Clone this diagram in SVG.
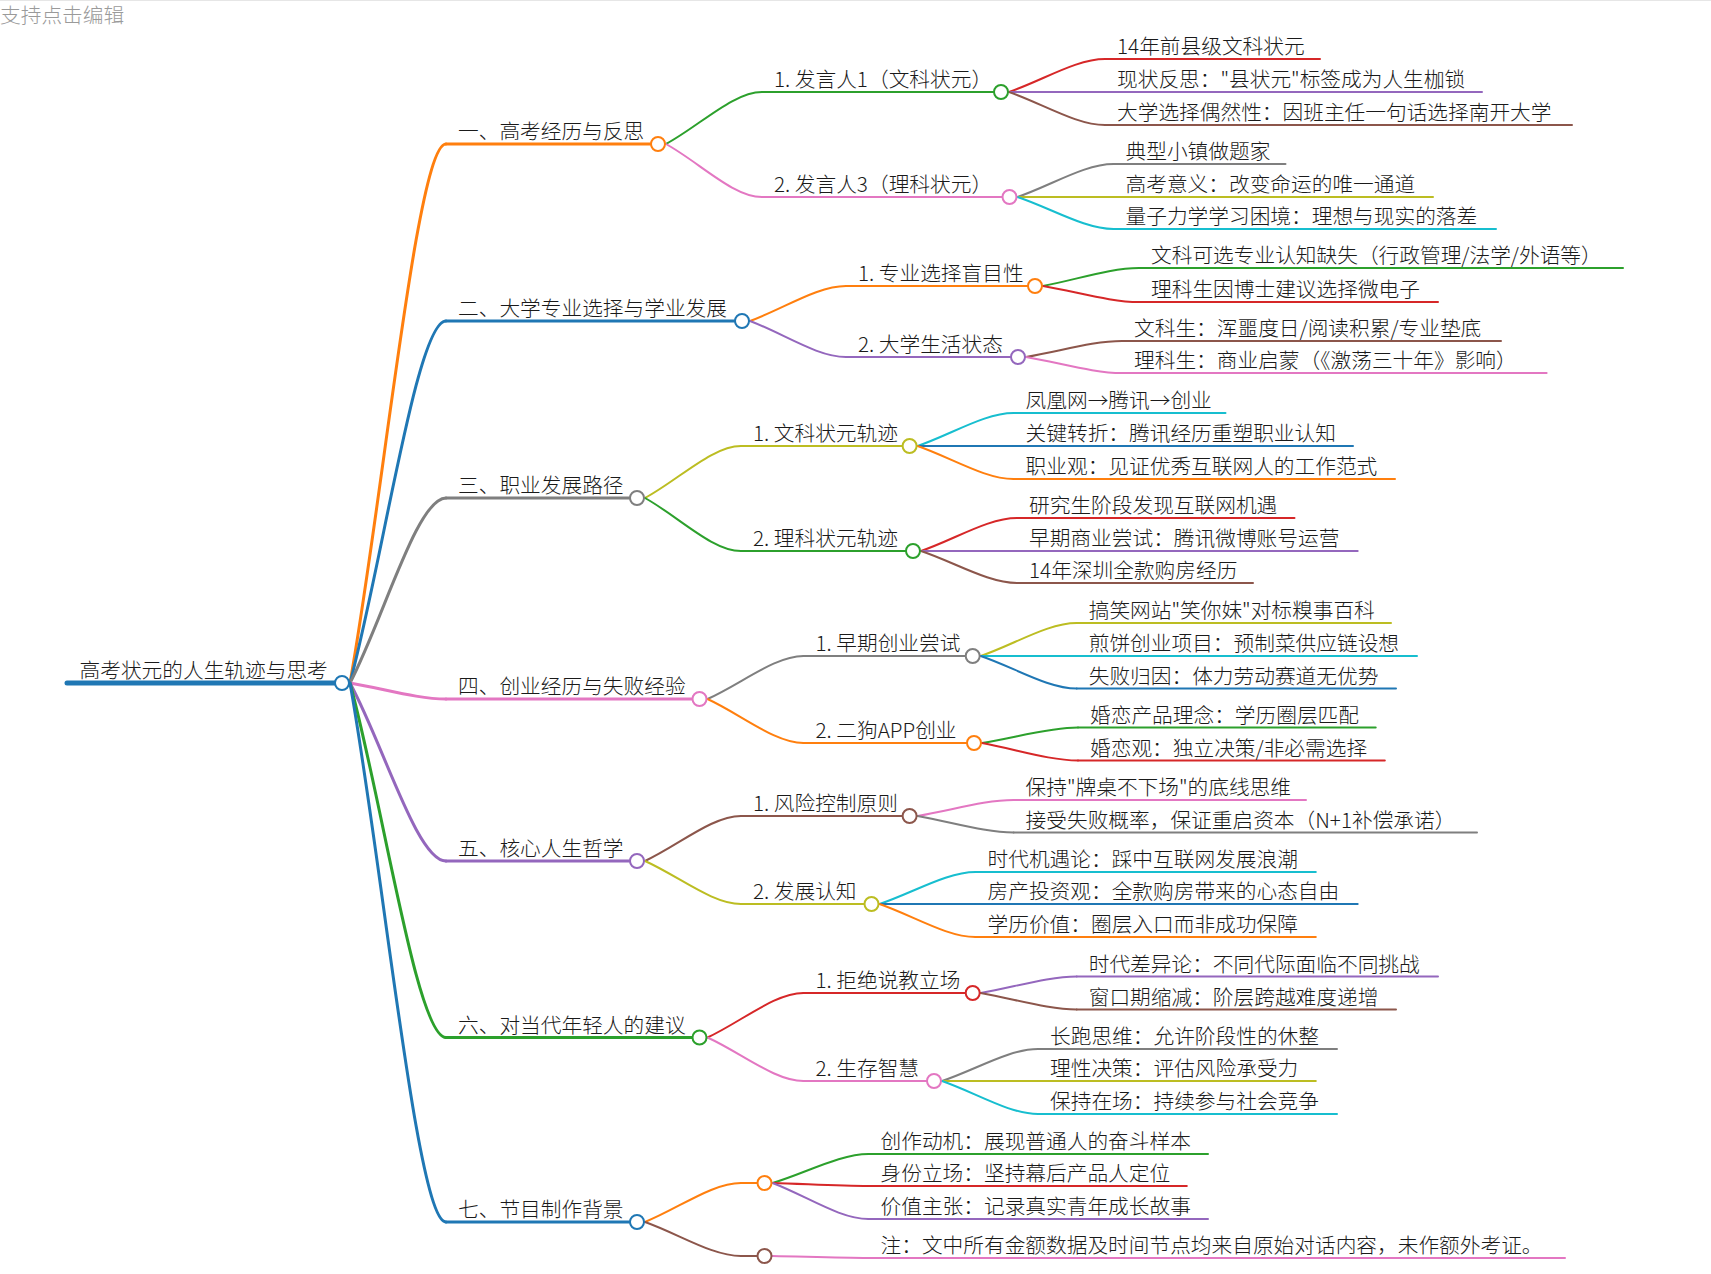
<svg xmlns="http://www.w3.org/2000/svg" width="1711" height="1274" viewBox="0 0 1711 1274">
<style>
text{font-family:"Noto Sans CJK SC","Noto Sans",sans-serif;font-size:20.7px;font-weight:300;fill:#1a1a1a}
.hint{fill:#9a9a9a}
path,line{fill:none;stroke-linecap:round}
.w3{stroke-width:3}
.w2{stroke-width:2}
circle{fill:#fff;stroke-width:2}
.or{stroke:#ff7f0e}.bl{stroke:#1f77b4}.gy{stroke:#7f7f7f}.pk{stroke:#e377c2}.pu{stroke:#9467bd}
.gn{stroke:#2ca02c}.rd{stroke:#d62728}.br{stroke:#8c564b}.ol{stroke:#bcbd22}.cy{stroke:#17becf}
</style>
<rect width="1711" height="1274" fill="#fff"/>
<line x1="0" y1="0.5" x2="1711" y2="0.5" stroke="#e6e6e6" stroke-width="1"/>
<text class="hint" x="0" y="23">支持点击编辑</text>

<g id="connectors">
<path class="w3 or" d="M350 683 C383.6 494.4 417.2 144 446 144"/>
<path class="w3 bl" d="M350 683 C383.6 556.3 417.2 321 446 321"/>
<path class="w3 gy" d="M350 683 C383.6 618.3 417.2 498 446 498"/>
<path class="w3 pk" d="M350 683 C383.6 688.6 417.2 699 446 699"/>
<path class="w3 pu" d="M350 683 C383.6 745.3 417.2 861 446 861"/>
<path class="w3 gn" d="M350 683 C383.6 807.1 417.2 1037.5 446 1037.5"/>
<path class="w3 bl" d="M350 683 C383.6 871.7 417.2 1222 446 1222"/>
<path class="w2 gn" d="M666 144 C699.6 125.8 733.2 92 762 92"/>
<path class="w2 pk" d="M666 144 C699.6 162.6 733.2 197 762 197"/>
<path class="w2 or" d="M750 321 C783.6 308.8 817.2 286 846 286"/>
<path class="w2 pu" d="M750 321 C783.6 333.6 817.2 357 846 357"/>
<path class="w2 ol" d="M645 498 C678.6 479.8 712.2 446 741 446"/>
<path class="w2 gn" d="M645 498 C678.6 516.6 712.2 551 741 551"/>
<path class="w2 gy" d="M707.5 699 C741.1 684 774.7 656 803.5 656"/>
<path class="w2 or" d="M707.5 699 C741.1 714.4 774.7 743 803.5 743"/>
<path class="w2 br" d="M645 861 C678.6 845.3 712.2 816 741 816"/>
<path class="w2 ol" d="M645 861 C678.6 876 712.2 904 741 904"/>
<path class="w2 rd" d="M707.5 1037.5 C741.1 1021.9 774.7 993 803.5 993"/>
<path class="w2 pk" d="M707.5 1037.5 C741.1 1052.7 774.7 1081 803.5 1081"/>
<path class="w2 or" d="M645 1222 C678.6 1208.4 712.2 1183 741 1183"/>
<path class="w2 br" d="M645 1222 C678.6 1233.9 712.2 1256 741 1256"/>
<path class="w2 rd" d="M1009 92 C1042.6 80.5 1076.2 59 1105 59"/>
<path class="w2 pu" d="M1009 92 L1105 92"/>
<path class="w2 br" d="M1009 92 C1042.6 103.6 1076.2 125 1105 125"/>
<path class="w2 gy" d="M1017.5 197 C1051.1 185.5 1084.7 164 1113.5 164"/>
<path class="w2 ol" d="M1017.5 197 L1113.5 197"/>
<path class="w2 cy" d="M1017.5 197 C1051.1 208.2 1084.7 229 1113.5 229"/>
<path class="w2 gn" d="M1043 286 C1076.6 279.7 1110.2 268 1139 268"/>
<path class="w2 rd" d="M1043 286 C1076.6 291.6 1110.2 302 1139 302"/>
<path class="w2 br" d="M1026 357 C1059.6 351.4 1093.2 341 1122 341"/>
<path class="w2 pk" d="M1026 357 C1059.6 362.6 1093.2 373 1122 373"/>
<path class="w2 cy" d="M917.6 446 C951.2 434.5 984.8 413 1013.6 413"/>
<path class="w2 bl" d="M917.6 446 L1013.6 446"/>
<path class="w2 or" d="M917.6 446 C951.2 457.6 984.8 479 1013.6 479"/>
<path class="w2 rd" d="M921 551 C954.6 539.5 988.2 518 1017 518"/>
<path class="w2 pu" d="M921 551 L1017 551"/>
<path class="w2 br" d="M921 551 C954.6 562.2 988.2 583 1017 583"/>
<path class="w2 ol" d="M980.7 656 C1014.3 644.5 1047.9 623 1076.7 623"/>
<path class="w2 cy" d="M980.7 656 L1076.7 656"/>
<path class="w2 bl" d="M980.7 656 C1014.3 667.4 1047.9 688.5 1076.7 688.5"/>
<path class="w2 gn" d="M982 743 C1015.6 737.6 1049.2 727.5 1078 727.5"/>
<path class="w2 rd" d="M982 743 C1015.6 749.1 1049.2 760.5 1078 760.5"/>
<path class="w2 pk" d="M917.6 816 C951.2 810.4 984.8 800 1013.6 800"/>
<path class="w2 gy" d="M917.6 816 C951.2 821.8 984.8 832.5 1013.6 832.5"/>
<path class="w2 cy" d="M879.5 904 C913.1 892.8 946.7 872 975.5 872"/>
<path class="w2 bl" d="M879.5 904 L975.5 904"/>
<path class="w2 or" d="M879.5 904 C913.1 915.6 946.7 937 975.5 937"/>
<path class="w2 pu" d="M980.7 993 C1014.3 987.2 1047.9 976.5 1076.7 976.5"/>
<path class="w2 br" d="M980.7 993 C1014.3 998.8 1047.9 1009.5 1076.7 1009.5"/>
<path class="w2 gy" d="M942 1081 C975.6 1069.8 1009.2 1049 1038 1049"/>
<path class="w2 ol" d="M942 1081 L1038 1081"/>
<path class="w2 cy" d="M942 1081 C975.6 1092.6 1009.2 1114 1038 1114"/>
<path class="w2 gn" d="M772.5 1183 C806.1 1172.9 839.7 1154 868.5 1154"/>
<path class="w2 rd" d="M772.5 1183 C806.1 1184 839.7 1186 868.5 1186"/>
<path class="w2 pu" d="M772.5 1183 C806.1 1195.6 839.7 1219 868.5 1219"/>
<path class="w2 pk" d="M772.5 1256 C806.1 1256.7 839.7 1258 868.5 1258"/>
</g>

<g id="root">
<line x1="67" y1="683" x2="342" y2="683" stroke="#1f77b4" stroke-width="5" stroke-linecap="butt"/>
<text x="79.5" y="678">高考状元的人生轨迹与思考</text>
<circle class="bl" cx="342" cy="683" r="7"/>
</g>

<g id="n1">
<line class="w3 or" x1="446" y1="144" x2="658" y2="144"/>
<text x="458" y="139">一、高考经历与反思</text>
<circle class="or" cx="658" cy="144" r="7"/>
</g>
<g id="n2">
<line class="w3 bl" x1="446" y1="321" x2="742" y2="321"/>
<text x="458" y="316">二、大学专业选择与学业发展</text>
<circle class="bl" cx="742" cy="321" r="7"/>
</g>
<g id="n3">
<line class="w3 gy" x1="446" y1="498" x2="637" y2="498"/>
<text x="458" y="493">三、职业发展路径</text>
<circle class="gy" cx="637" cy="498" r="7"/>
</g>
<g id="n4">
<line class="w3 pk" x1="446" y1="699" x2="699.5" y2="699"/>
<text x="458" y="694">四、创业经历与失败经验</text>
<circle class="pk" cx="699.5" cy="699" r="7"/>
</g>
<g id="n5">
<line class="w3 pu" x1="446" y1="861" x2="637" y2="861"/>
<text x="458" y="856">五、核心人生哲学</text>
<circle class="pu" cx="637" cy="861" r="7"/>
</g>
<g id="n6">
<line class="w3 gn" x1="446" y1="1037.5" x2="699.5" y2="1037.5"/>
<text x="458" y="1032.5">六、对当代年轻人的建议</text>
<circle class="gn" cx="699.5" cy="1037.5" r="7"/>
</g>
<g id="n7">
<line class="w3 bl" x1="446" y1="1222" x2="637" y2="1222"/>
<text x="458" y="1217">七、节目制作背景</text>
<circle class="bl" cx="637" cy="1222" r="7"/>
</g>

<g id="n1-1">
<line class="w2 gn" x1="762" y1="92" x2="1001" y2="92"/>
<text x="774" y="87">1. 发言人1（文科状元）</text>
<circle class="gn" cx="1001" cy="92" r="7"/>
</g>
<g id="n1-2">
<line class="w2 pk" x1="762" y1="197" x2="1009.5" y2="197"/>
<text x="774" y="192">2. 发言人3（理科状元）</text>
<circle class="pk" cx="1009.5" cy="197" r="7"/>
</g>
<g id="n2-1">
<line class="w2 or" x1="846" y1="286" x2="1035" y2="286"/>
<text x="858" y="281">1. 专业选择盲目性</text>
<circle class="or" cx="1035" cy="286" r="7"/>
</g>
<g id="n2-2">
<line class="w2 pu" x1="846" y1="357" x2="1018" y2="357"/>
<text x="858" y="352">2. 大学生活状态</text>
<circle class="pu" cx="1018" cy="357" r="7"/>
</g>
<g id="n3-1">
<line class="w2 ol" x1="741" y1="446" x2="909.6" y2="446"/>
<text x="753" y="441">1. 文科状元轨迹</text>
<circle class="ol" cx="909.6" cy="446" r="7"/>
</g>
<g id="n3-2">
<line class="w2 gn" x1="741" y1="551" x2="913" y2="551"/>
<text x="753" y="546">2. 理科状元轨迹</text>
<circle class="gn" cx="913" cy="551" r="7"/>
</g>
<g id="n4-1">
<line class="w2 gy" x1="803.5" y1="656" x2="972.7" y2="656"/>
<text x="815.5" y="651">1. 早期创业尝试</text>
<circle class="gy" cx="972.7" cy="656" r="7"/>
</g>
<g id="n4-2">
<line class="w2 or" x1="803.5" y1="743" x2="974" y2="743"/>
<text x="815.5" y="738">2. 二狗APP创业</text>
<circle class="or" cx="974" cy="743" r="7"/>
</g>
<g id="n5-1">
<line class="w2 br" x1="741" y1="816" x2="909.6" y2="816"/>
<text x="753" y="811">1. 风险控制原则</text>
<circle class="br" cx="909.6" cy="816" r="7"/>
</g>
<g id="n5-2">
<line class="w2 ol" x1="741" y1="904" x2="871.5" y2="904"/>
<text x="753" y="899">2. 发展认知</text>
<circle class="ol" cx="871.5" cy="904" r="7"/>
</g>
<g id="n6-1">
<line class="w2 rd" x1="803.5" y1="993" x2="972.7" y2="993"/>
<text x="815.5" y="988">1. 拒绝说教立场</text>
<circle class="rd" cx="972.7" cy="993" r="7"/>
</g>
<g id="n6-2">
<line class="w2 pk" x1="803.5" y1="1081" x2="934" y2="1081"/>
<text x="815.5" y="1076">2. 生存智慧</text>
<circle class="pk" cx="934" cy="1081" r="7"/>
</g>
<g id="n7-1">
<line class="w2 or" x1="741" y1="1183" x2="764.5" y2="1183"/>
<circle class="or" cx="764.5" cy="1183" r="7"/>
</g>
<g id="n7-2">
<line class="w2 br" x1="741" y1="1256" x2="764.5" y2="1256"/>
<circle class="br" cx="764.5" cy="1256" r="7"/>
</g>

<g id="leaves">
<g id="l1-1a"><line class="w2 rd" x1="1105" y1="59" x2="1320" y2="59"/><text x="1117" y="54">14年前县级文科状元</text></g>
<g id="l1-1b"><line class="w2 pu" x1="1105" y1="92" x2="1482" y2="92"/><text x="1117" y="87">现状反思：&quot;县状元&quot;标签成为人生枷锁</text></g>
<g id="l1-1c"><line class="w2 br" x1="1105" y1="125" x2="1572" y2="125"/><text x="1117" y="120">大学选择偶然性：因班主任一句话选择南开大学</text></g>
<g id="l1-2a"><line class="w2 gy" x1="1113.5" y1="164" x2="1285.5" y2="164"/><text x="1125.5" y="159">典型小镇做题家</text></g>
<g id="l1-2b"><line class="w2 ol" x1="1113.5" y1="197" x2="1433" y2="197"/><text x="1125.5" y="192">高考意义：改变命运的唯一通道</text></g>
<g id="l1-2c"><line class="w2 cy" x1="1113.5" y1="229" x2="1496" y2="229"/><text x="1125.5" y="224">量子力学学习困境：理想与现实的落差</text></g>
<g id="l2-1a"><line class="w2 gn" x1="1139" y1="268" x2="1623" y2="268"/><text x="1151" y="263">文科可选专业认知缺失（行政管理/法学/外语等）</text></g>
<g id="l2-1b"><line class="w2 rd" x1="1139" y1="302" x2="1438" y2="302"/><text x="1151" y="297">理科生因博士建议选择微电子</text></g>
<g id="l2-2a"><line class="w2 br" x1="1122" y1="341" x2="1501" y2="341"/><text x="1134" y="336">文科生：浑噩度日/阅读积累/专业垫底</text></g>
<g id="l2-2b"><line class="w2 pk" x1="1122" y1="373" x2="1546.6" y2="373"/><text x="1134" y="368">理科生：商业启蒙（《激荡三十年》影响）</text></g>
<g id="l3-1a"><line class="w2 cy" x1="1013.6" y1="413" x2="1225.5" y2="413"/><text x="1025.6" y="408">凤凰网→腾讯→创业</text></g>
<g id="l3-1b"><line class="w2 bl" x1="1013.6" y1="446" x2="1353" y2="446"/><text x="1025.6" y="441">关键转折：腾讯经历重塑职业认知</text></g>
<g id="l3-1c"><line class="w2 or" x1="1013.6" y1="479" x2="1395" y2="479"/><text x="1025.6" y="474">职业观：见证优秀互联网人的工作范式</text></g>
<g id="l3-2a"><line class="w2 rd" x1="1017" y1="518" x2="1294.5" y2="518"/><text x="1029" y="513">研究生阶段发现互联网机遇</text></g>
<g id="l3-2b"><line class="w2 pu" x1="1017" y1="551" x2="1357.7" y2="551"/><text x="1029" y="546">早期商业尝试：腾讯微博账号运营</text></g>
<g id="l3-2c"><line class="w2 br" x1="1017" y1="583" x2="1253" y2="583"/><text x="1029" y="578">14年深圳全款购房经历</text></g>
<g id="l4-1a"><line class="w2 ol" x1="1076.7" y1="623" x2="1391" y2="623"/><text x="1088.7" y="618">搞笑网站&quot;笑你妹&quot;对标糗事百科</text></g>
<g id="l4-1b"><line class="w2 cy" x1="1076.7" y1="656" x2="1417" y2="656"/><text x="1088.7" y="651">煎饼创业项目：预制菜供应链设想</text></g>
<g id="l4-1c"><line class="w2 bl" x1="1076.7" y1="688.5" x2="1396" y2="688.5"/><text x="1088.7" y="683.5">失败归因：体力劳动赛道无优势</text></g>
<g id="l4-2a"><line class="w2 gn" x1="1078" y1="727.5" x2="1375.7" y2="727.5"/><text x="1090" y="722.5">婚恋产品理念：学历圈层匹配</text></g>
<g id="l4-2b"><line class="w2 rd" x1="1078" y1="760.5" x2="1384.8" y2="760.5"/><text x="1090" y="755.5">婚恋观：独立决策/非必需选择</text></g>
<g id="l5-1a"><line class="w2 pk" x1="1013.6" y1="800" x2="1306" y2="800"/><text x="1025.6" y="795">保持&quot;牌桌不下场&quot;的底线思维</text></g>
<g id="l5-1b"><line class="w2 gy" x1="1013.6" y1="832.5" x2="1477" y2="832.5"/><text x="1025.6" y="827.5">接受失败概率，保证重启资本（N+1补偿承诺）</text></g>
<g id="l5-2a"><line class="w2 cy" x1="975.5" y1="872" x2="1315.8" y2="872"/><text x="987.5" y="867">时代机遇论：踩中互联网发展浪潮</text></g>
<g id="l5-2b"><line class="w2 bl" x1="975.5" y1="904" x2="1357.7" y2="904"/><text x="987.5" y="899">房产投资观：全款购房带来的心态自由</text></g>
<g id="l5-2c"><line class="w2 or" x1="975.5" y1="937" x2="1315.8" y2="937"/><text x="987.5" y="932">学历价值：圈层入口而非成功保障</text></g>
<g id="l6-1a"><line class="w2 pu" x1="1076.7" y1="976.5" x2="1438" y2="976.5"/><text x="1088.7" y="971.5">时代差异论：不同代际面临不同挑战</text></g>
<g id="l6-1b"><line class="w2 br" x1="1076.7" y1="1009.5" x2="1396" y2="1009.5"/><text x="1088.7" y="1004.5">窗口期缩减：阶层跨越难度递增</text></g>
<g id="l6-2a"><line class="w2 gy" x1="1038" y1="1049" x2="1337" y2="1049"/><text x="1050" y="1044">长跑思维：允许阶段性的休整</text></g>
<g id="l6-2b"><line class="w2 ol" x1="1038" y1="1081" x2="1315.8" y2="1081"/><text x="1050" y="1076">理性决策：评估风险承受力</text></g>
<g id="l6-2c"><line class="w2 cy" x1="1038" y1="1114" x2="1337" y2="1114"/><text x="1050" y="1109">保持在场：持续参与社会竞争</text></g>
<g id="l7-1a"><line class="w2 gn" x1="868.5" y1="1154" x2="1208" y2="1154"/><text x="880.5" y="1149">创作动机：展现普通人的奋斗样本</text></g>
<g id="l7-1b"><line class="w2 rd" x1="868.5" y1="1186" x2="1186.8" y2="1186"/><text x="880.5" y="1181">身份立场：坚持幕后产品人定位</text></g>
<g id="l7-1c"><line class="w2 pu" x1="868.5" y1="1219" x2="1208" y2="1219"/><text x="880.5" y="1214">价值主张：记录真实青年成长故事</text></g>
<g id="l7-2a"><line class="w2 pk" x1="868.5" y1="1258" x2="1565" y2="1258"/><text x="880.5" y="1253">注：文中所有金额数据及时间节点均来自原始对话内容，未作额外考证。</text></g>
</g>
</svg>
